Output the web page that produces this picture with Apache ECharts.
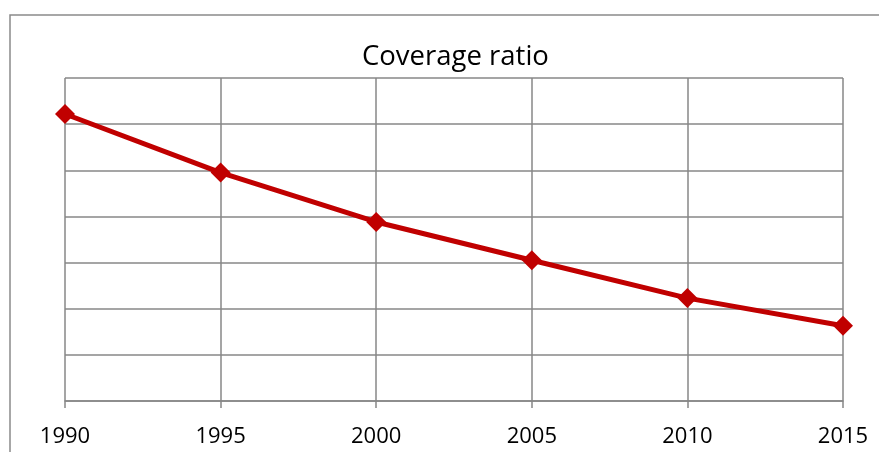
<!DOCTYPE html>
<html>
<head>
<meta charset="utf-8">
<script src="https://cdn.jsdelivr.net/npm/echarts@6/dist/echarts.min.js"></script>
<style>
  html, body { margin: 0; padding: 0; background: #fff; }
  #chart { width: 879px; height: 452px; }
</style>
</head>
<body>
<div id="chart"></div>
<script>
// Coverage ratio by year
const years = ['1990', '1995', '2000', '2005', '2010', '2015'];
const coverageRatio = [6.22, 4.95, 3.88, 3.05, 2.23, 1.63];

const gridGray = '#878787';
const lineRed = '#C00000';
const fontFamily = '"Open Sans", "Liberation Sans", sans-serif';

const chart = echarts.init(document.getElementById('chart'));
chart.setOption({
  backgroundColor: '#ffffff',
  animation: false,
  title: {
    text: 'Coverage ratio',
    left: 357,
    top: 38,
    textStyle: { fontFamily, fontSize: 27.5, fontWeight: 'normal', color: '#000' }
  },
  graphic: [{
    type: 'rect',
    shape: { x: 10, y: 15, width: 1000, height: 600 },
    style: { fill: 'none', stroke: '#8a8a8a', lineWidth: 1.5 },
    silent: true,
    z: -1
  }],
  grid: { left: 65, right: 36, top: 78, bottom: 51 },
  xAxis: {
    type: 'category',
    data: years,
    boundaryGap: false,
    axisLine: { lineStyle: { color: gridGray, width: 1.5 } },
    axisTick: { show: true, length: 7, lineStyle: { color: gridGray, width: 1.5 } },
    axisLabel: { margin: 25, fontFamily, fontSize: 22, color: '#000' },
    splitLine: { show: true, lineStyle: { color: gridGray, width: 1.5 } }
  },
  yAxis: {
    type: 'value',
    min: 0,
    max: 7,
    interval: 1,
    axisLine: { show: false },
    axisTick: { show: false },
    axisLabel: { show: false },
    splitLine: { show: true, lineStyle: { color: gridGray, width: 1.5 } }
  },
  series: [{
    type: 'line',
    data: coverageRatio,
    symbol: 'diamond',
    symbolSize: 20,
    lineStyle: { color: lineRed, width: 5 },
    itemStyle: { color: lineRed },
    z: 5
  }]
});
</script>
</body>
</html>
